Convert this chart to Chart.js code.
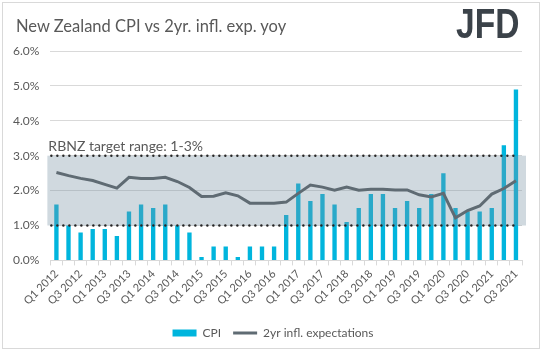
<!DOCTYPE html>
<html>
<head>
<meta charset="utf-8">
<script src="https://cdn.jsdelivr.net/npm/chart.js@4.4.1/dist/chart.umd.min.js"></script>
<style>
  html, body { margin: 0; padding: 0; background: #fff; }
  #cadre { position: relative; width: 543px; height: 353px; overflow: hidden; }
  #bordure { position: absolute; left: 2px; top: 2px; width: 538px; height: 347px; border: 1px solid #d9d9d9; box-sizing: border-box; }
  #titre { position: absolute; left: 16px; top: 16px; font: 16.5px Lato, sans-serif; line-height: 20px; color: #595959; white-space: nowrap; }
  #logo { position: absolute; left: 456px; top: 0px; font: bold 43px "Liberation Sans", Arial, sans-serif; color: #3b4249; transform: scaleX(0.78); transform-origin: left top; line-height: 46px; }
  canvas { position: absolute; left: 0; top: 0; }
</style>
</head>
<body>
<div id="cadre">
  <div id="bordure"></div>
  <canvas id="graphique" width="543" height="353"></canvas>
  <div id="titre">New Zealand CPI vs 2yr. infl. exp. yoy</div>
  <div id="logo">JFD</div>
</div>
<script>
const trimestres = [
  'Q1 2012', 'Q2 2012', 'Q3 2012', 'Q4 2012',
  'Q1 2013', 'Q2 2013', 'Q3 2013', 'Q4 2013',
  'Q1 2014', 'Q2 2014', 'Q3 2014', 'Q4 2014',
  'Q1 2015', 'Q2 2015', 'Q3 2015', 'Q4 2015',
  'Q1 2016', 'Q2 2016', 'Q3 2016', 'Q4 2016',
  'Q1 2017', 'Q2 2017', 'Q3 2017', 'Q4 2017',
  'Q1 2018', 'Q2 2018', 'Q3 2018', 'Q4 2018',
  'Q1 2019', 'Q2 2019', 'Q3 2019', 'Q4 2019',
  'Q1 2020', 'Q2 2020', 'Q3 2020', 'Q4 2020',
  'Q1 2021', 'Q2 2021', 'Q3 2021'
];

// IPC en glissement annuel (%)
const ipc = [
  1.6, 1.0, 0.8, 0.9,
  0.9, 0.7, 1.4, 1.6,
  1.5, 1.6, 1.0, 0.8,
  0.1, 0.4, 0.4, 0.1,
  0.4, 0.4, 0.4, 1.3,
  2.2, 1.7, 1.9, 1.6,
  1.1, 1.5, 1.9, 1.9,
  1.5, 1.7, 1.5, 1.9,
  2.5, 1.5, 1.4, 1.4,
  1.5, 3.3, 4.9
];

// anticipations d'inflation a 2 ans (%)
const anticipations2ans = [
  2.52, 2.43, 2.35, 2.29,
  2.18, 2.07, 2.38, 2.35,
  2.35, 2.38, 2.26, 2.09,
  1.83, 1.84, 1.94, 1.85,
  1.64, 1.64, 1.64, 1.67,
  1.92, 2.16, 2.10, 2.01,
  2.10, 2.01, 2.04, 2.04,
  2.02, 2.02, 1.88, 1.82,
  1.92, 1.22, 1.43, 1.56,
  1.90, 2.06, 2.28
];

const bandeCible = [1, 3];
const graduationsY = [0, 1, 2, 3, 4, 5, 6];

const gris = '#595959';
const police = 'Lato, sans-serif';

// bande grise de la cible RBNZ, dessinee par-dessus les barres mais sous la ligne
const bandeRBNZ = {
  id: 'bandeRBNZ',
  afterLayout(chart) {
    // legende un peu decalee a droite comme dans l'original
    chart.legend.left += 11;
    chart.legend.right += 11;
  },
  afterDatasetDraw(chart, args) {
    if (args.index !== 0) return;
    const { ctx, chartArea, scales } = chart;
    const yHaut = scales.y.getPixelForValue(bandeCible[1]);
    const yBas = scales.y.getPixelForValue(bandeCible[0]);
    ctx.save();
    ctx.fillStyle = 'rgba(120, 146, 163, 0.35)';
    ctx.fillRect(chartArea.left - 3, yHaut, chartArea.right - chartArea.left + 7, yBas - yHaut);
    ctx.fillStyle = '#262626';
    [yHaut, yBas].forEach(y => {
      for (let x = chartArea.left + 1; x <= chartArea.right - 6; x += 6) {
        ctx.beginPath();
        ctx.arc(x, y, 1.2, 0, Math.PI * 2);
        ctx.fill();
      }
    });
    ctx.fillStyle = gris;
    ctx.font = '14px ' + police;
    ctx.textBaseline = 'alphabetic';
    ctx.fillText('RBNZ target range: 1-3%', chartArea.left - 2, yHaut - 5);
    ctx.restore();
  }
};

new Chart(document.getElementById('graphique'), {
  data: {
    labels: trimestres,
    datasets: [
      {
        type: 'bar',
        label: 'CPI',
        data: ipc,
        backgroundColor: '#00b5dd',
        borderWidth: 0,
        barPercentage: 0.36,
        categoryPercentage: 1,
        pointStyle: 'rect',
        order: 1
      },
      {
        type: 'line',
        label: '2yr infl. expectations',
        data: anticipations2ans,
        borderColor: '#5f6b73',
        backgroundColor: '#5f6b73',
        borderWidth: 3,
        pointRadius: 0,
        pointStyle: 'line',
        tension: 0,
        order: 0
      }
    ]
  },
  options: {
    responsive: false,
    animation: false,
    layout: { padding: { top: 51, left: 2, right: 21, bottom: 4 } },
    scales: {
      x: {
        offset: true,
        afterFit: (axe) => {
          axe.height += 5.5;
          axe.paddingLeft = 0;
          axe.paddingRight = 0;
        },
        grid: { offset: true, drawOnChartArea: false, drawTicks: true, tickLength: 5, color: '#d9d9d9' },
        border: { color: '#d9d9d9' },
        ticks: {
          autoSkip: false,
          minRotation: 45,
          maxRotation: 45,
          color: gris,
          font: { family: police, size: 11 },
          padding: 2,
          callback: function (valeur, i) { return i % 2 === 0 ? trimestres[i] : ''; }
        }
      },
      y: {
        min: graduationsY[0],
        max: graduationsY[graduationsY.length - 1],
        afterBuildTicks: (axe) => { axe.ticks = graduationsY.map(v => ({ value: v })); },
        grid: { color: '#d9d9d9', drawTicks: false },
        border: { display: false },
        ticks: {
          autoSkip: false,
          color: gris,
          font: { family: police, size: 12 },
          padding: 11,
          callback: (v) => v.toFixed(1) + '%'
        }
      }
    },
    plugins: {
      legend: {
        position: 'bottom',
        labels: {
          usePointStyle: true,
          pointStyleWidth: 24,
          boxHeight: 7,
          padding: 12,
          color: gris,
          font: { family: police, size: 12 },
          sort: (a, b) => a.datasetIndex - b.datasetIndex
        }
      },
      tooltip: { enabled: false }
    }
  },
  plugins: [bandeRBNZ]
});
</script>
</body>
</html>
